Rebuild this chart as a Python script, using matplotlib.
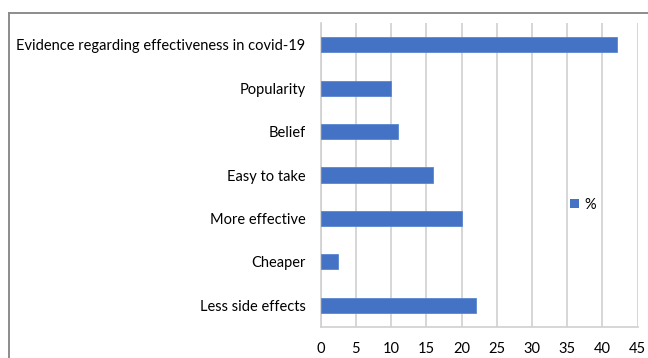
import matplotlib
matplotlib.use('Agg')
import matplotlib.pyplot as plt
from matplotlib.lines import Line2D
from matplotlib.patches import Patch

plt.rcParams['font.family'] = ['Lato', 'DejaVu Sans']

# reasons for choosing, listed bottom to top as barh draws them
reasons = ['Less side effects', 'Cheaper', 'More effective', 'Easy to take',
           'Belief', 'Popularity', 'Evidence regarding effectiveness in covid-19']
percent = [22, 2.5, 20, 16, 11, 10, 42]
x_ticks = [0, 5, 10, 15, 20, 25, 30, 35, 40, 45]

W, H = 648, 358
bar_color = '#4472C4'
grid_color = '#d0d0d0'
frame_color = '#8c8c8c'

fig = plt.figure(figsize=(W / 100, H / 100), dpi=100)

# outer chart frame: only the left and top edges fall inside the image
fig.add_artist(Line2D([9 / W, 9 / W], [0, 1 - 13 / H], transform=fig.transFigure,
                      color=frame_color, linewidth=1.4))
fig.add_artist(Line2D([9 / W, 1], [1 - 13 / H, 1 - 13 / H], transform=fig.transFigure,
                      color=frame_color, linewidth=1.4))

ax = fig.add_axes([320.7 / W, 31 / H, 317 / W, 304 / H])
y = range(len(reasons))
ax.barh(y, percent, height=0.35, color=bar_color, edgecolor='#5b86d0',
        linewidth=0.6, zorder=3)

ax.set_xlim(0, 45)
ax.set_ylim(-0.5, len(reasons) - 0.5)
ax.set_xticks(x_ticks)
ax.set_yticks(list(y))
ax.set_yticklabels(reasons)
ax.tick_params(axis='both', length=0, labelsize=10.5, colors='black')
ax.tick_params(axis='x', pad=11)
ax.tick_params(axis='y', pad=11)

ax.grid(axis='x', color=grid_color, linewidth=1.2, zorder=0)
for side in ['top', 'right']:
    ax.spines[side].set_visible(False)
for side in ['left', 'bottom']:
    ax.spines[side].set_color(grid_color)
    ax.spines[side].set_linewidth(1.2)

ax.legend(handles=[Patch(facecolor=bar_color, label='%')], loc='center left',
          bbox_to_anchor=(570 / W, 1 - 205 / H), bbox_transform=fig.transFigure,
          frameon=False, fontsize=10.5, handlelength=0.6, handleheight=0.6,
          handletextpad=0.4, borderpad=0, borderaxespad=0)

fig.savefig('out.png', dpi=100)
